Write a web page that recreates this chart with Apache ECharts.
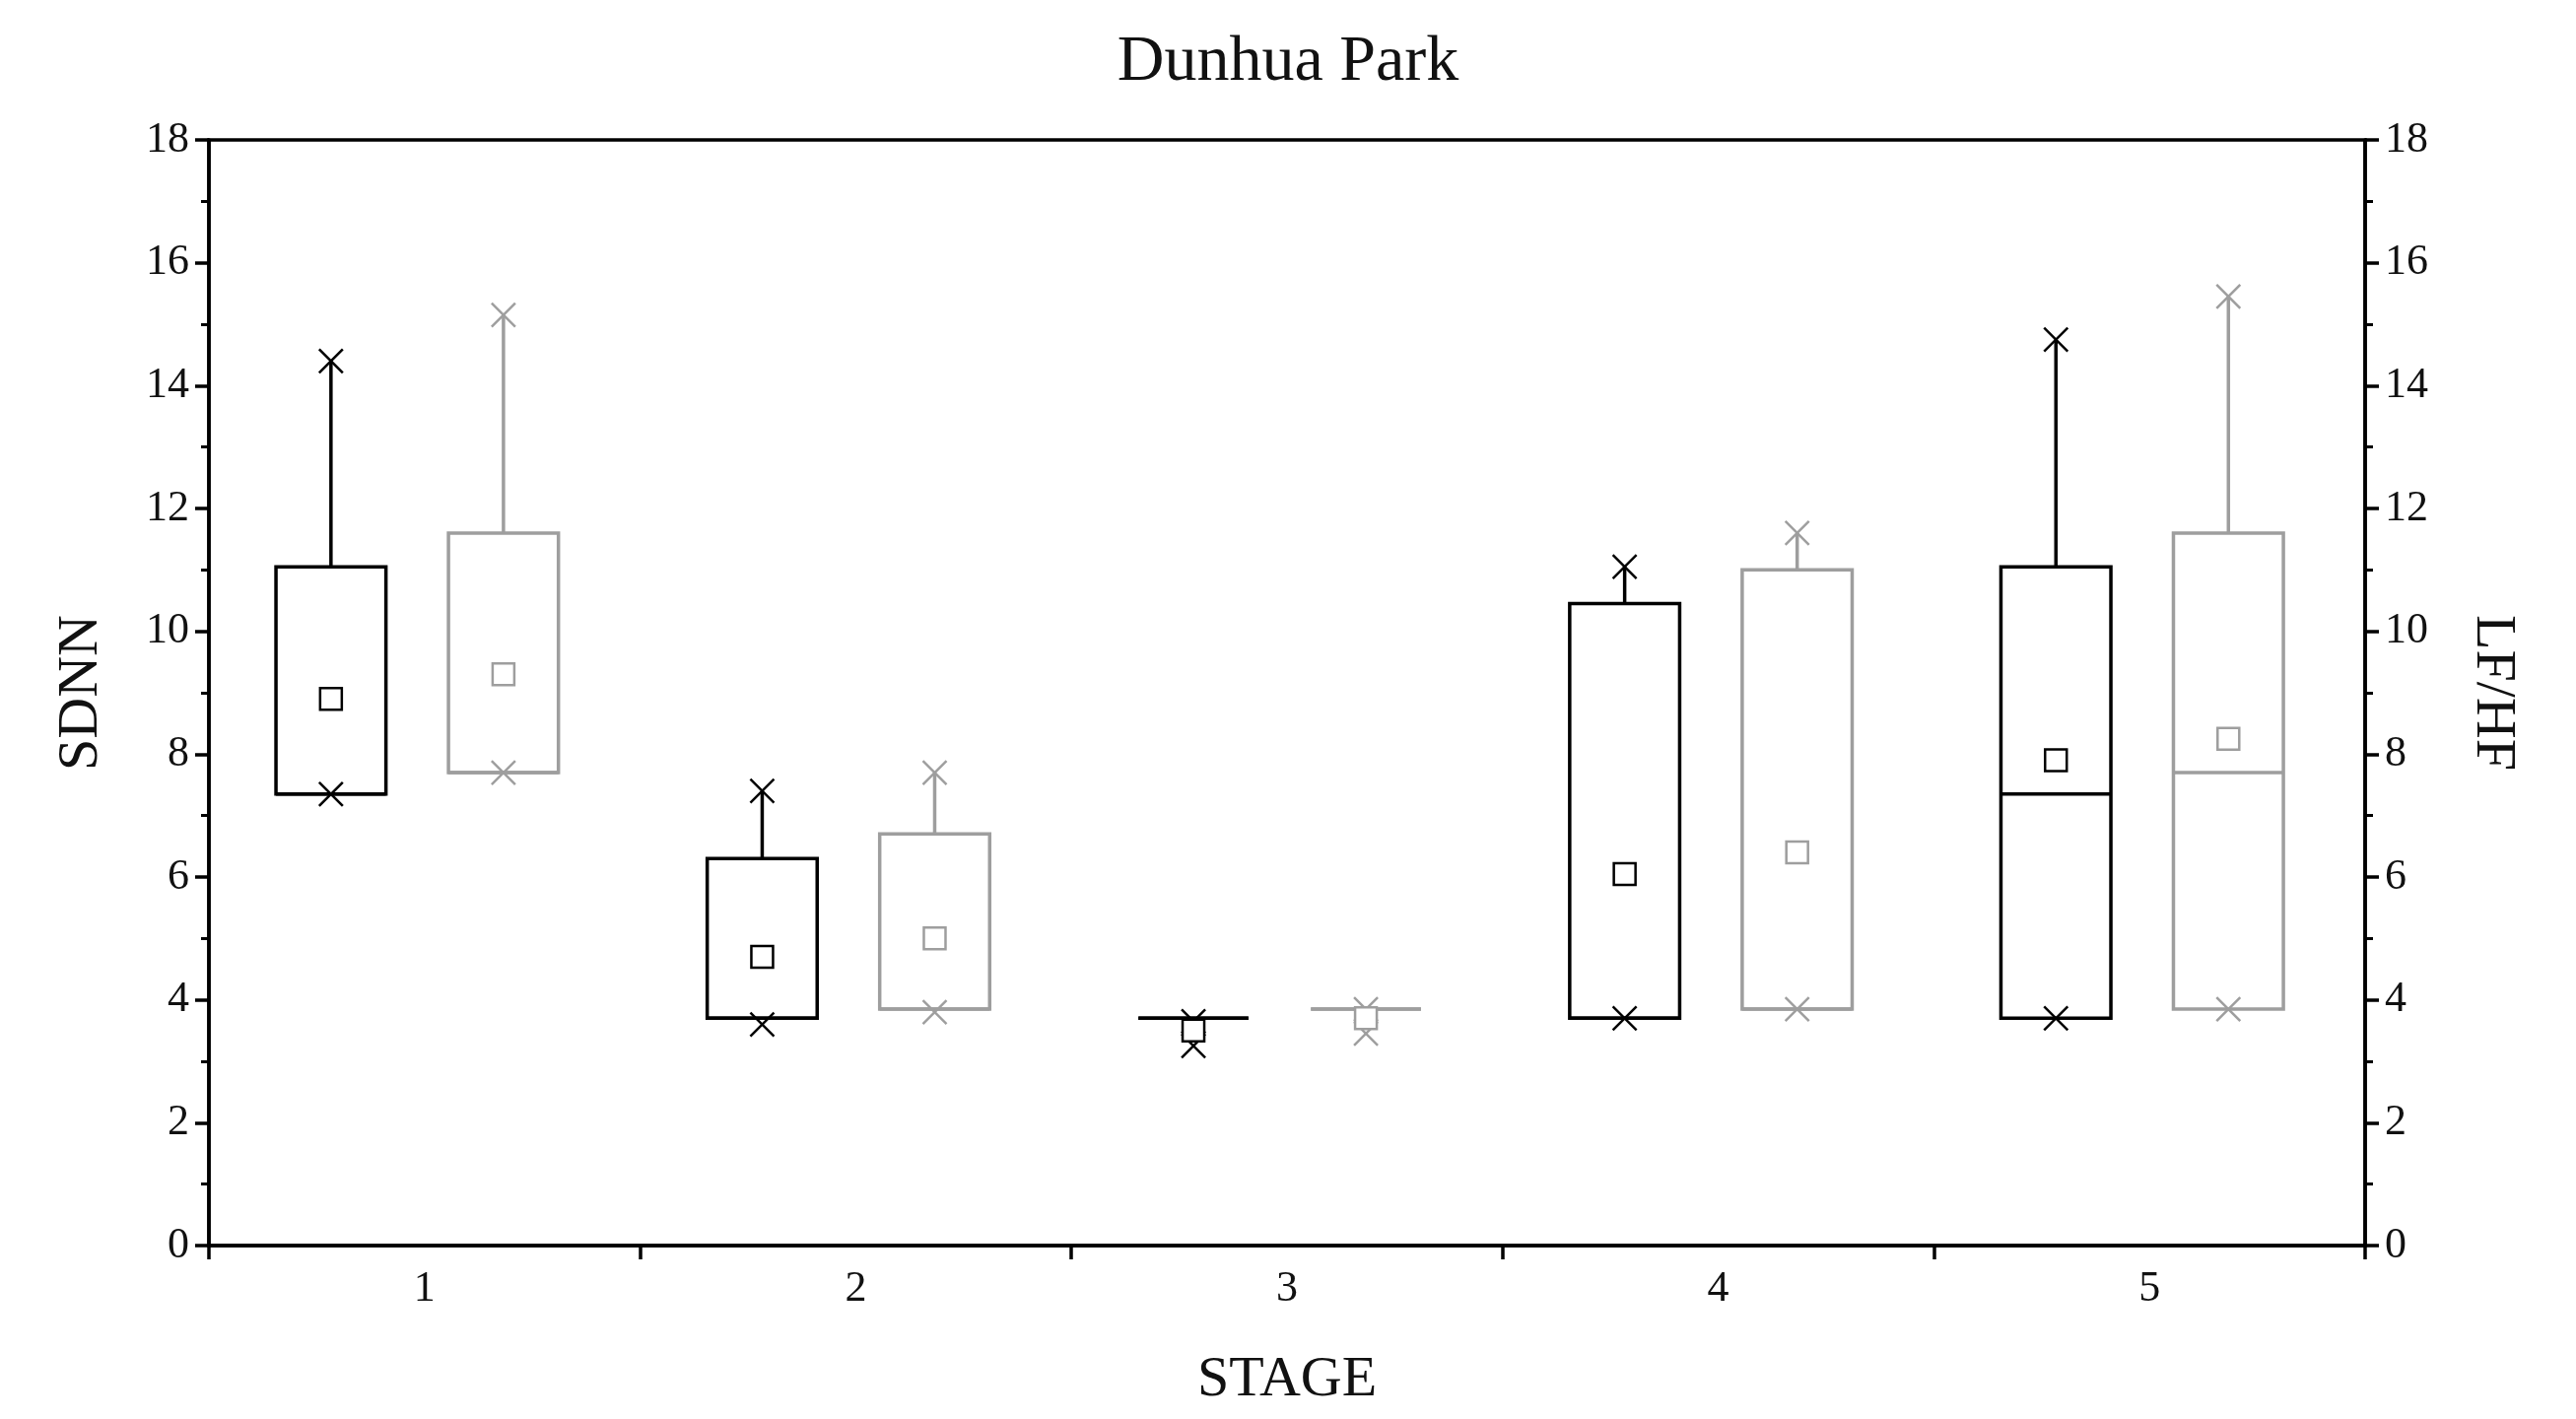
<!DOCTYPE html>
<html><head><meta charset="utf-8">
<script src="https://cdn.jsdelivr.net/npm/echarts@6/dist/echarts.min.js"></script>
<style>html,body{margin:0;background:#fff}#c{width:2614px;height:1440px}</style></head>
<body><div id="c"></div>
<script>
const stages = ['1','2','3','4','5'];
// [boxLow, median, boxHigh, whiskerHigh, markerHigh, markerLow, mean]
const sdnn = [
  [7.35, 7.35, 11.05, 14.4, 14.4, 7.35, 8.9],
  [3.7, 3.7, 6.3, 7.4, 7.4, 3.6, 4.7],
  [3.7, 3.7, 3.7, 3.7, 3.65, 3.25, 3.5],
  [3.7, 3.7, 10.45, 11.05, 11.05, 3.7, 6.05],
  [3.7, 7.35, 11.05, 14.75, 14.75, 3.7, 7.9]
];
const lfhf = [
  [7.7, 7.7, 11.6, 15.15, 15.15, 7.7, 9.3],
  [3.85, 3.85, 6.7, 7.7, 7.7, 3.8, 5.0],
  [3.85, 3.85, 3.85, 3.85, 3.85, 3.45, 3.7],
  [3.85, 3.85, 11.0, 11.6, 11.6, 3.85, 6.4],
  [3.85, 7.7, 11.6, 15.45, 15.45, 3.85, 8.25]
];
const yTicks = [0,2,4,6,8,10,12,14,16,18];

function makeRender(color, offset){
  return function(params, api){
    const i = api.value(0);
    const v = k => api.value(k+1);
    const band = api.size([1,0])[0];
    const cx = api.coord([i,0])[0] + offset*band;
    const w = band*0.255;
    const y = val => api.coord([i,val])[1];
    const st = {stroke:color, lineWidth:3.5, fill:null};
    const ch = [];
    ch.push({type:'line', shape:{x1:cx,y1:y(v(2)),x2:cx,y2:y(v(3))}, style:st});
    ch.push({type:'rect', shape:{x:cx-w/2,y:y(v(2)),width:w,height:y(v(0))-y(v(2))}, style:{stroke:color,lineWidth:3.5,fill:'none'}});
    ch.push({type:'line', shape:{x1:cx-w/2,y1:y(v(1)),x2:cx+w/2,y2:y(v(1))}, style:st});
    const s = 12;
    [v(4), v(5)].forEach(val=>{
      const yy = y(val);
      ch.push({type:'line', shape:{x1:cx-s,y1:yy-s,x2:cx+s,y2:yy+s}, style:{stroke:color,lineWidth:2.5}});
      ch.push({type:'line', shape:{x1:cx-s,y1:yy+s,x2:cx+s,y2:yy-s}, style:{stroke:color,lineWidth:2.5}});
    });
    const q = 11, ym = y(v(6));
    ch.push({type:'rect', shape:{x:cx-q,y:ym-q,width:2*q,height:2*q}, style:{stroke:color,lineWidth:2.5,fill:'#fff'}});
    return {type:'group', children:ch};
  };
}
const toData = arr => arr.map((r,i)=>[i].concat(r));
const font = 'Liberation Serif';
const chart = echarts.init(document.getElementById('c'));
chart.setOption({
  backgroundColor:'#fff',
  title:{text:'Dunhua Park', left:'center', top:26, textStyle:{fontFamily:font,fontSize:66,fontWeight:'normal',color:'#111'}},
  grid:{left:212, right:214, top:142, bottom:176, show:true, borderColor:'#000', borderWidth:3.5},
  xAxis:{type:'category', data:stages, boundaryGap:true,
    name:'STAGE', nameLocation:'middle', nameGap:108, nameTextStyle:{fontFamily:font,fontSize:58,color:'#111'},
    axisLine:{lineStyle:{color:'#000',width:3.5}}, axisTick:{show:true,length:14,lineStyle:{width:3.5,color:'#000'}},
    axisLabel:{fontFamily:font,fontSize:44,color:'#111',margin:22}},
  yAxis:[
    {type:'value', min:0, max:18, interval:2, position:'left',
     name:'SDNN', nameLocation:'middle', nameGap:100, nameTextStyle:{fontFamily:font,fontSize:58,color:'#111'},
     axisLine:{show:true,lineStyle:{color:'#000',width:3.5}}, axisTick:{show:true,length:14,lineStyle:{width:3.5}},
     minorTick:{show:true,splitNumber:2,length:8,lineStyle:{color:'#000',width:3}},
     splitLine:{show:false}, axisLabel:{fontFamily:font,fontSize:44,color:'#111',margin:20}},
    {type:'value', min:0, max:18, interval:2, position:'right',
     name:'LF/HF', nameLocation:'middle', nameGap:100, nameRotate:-90, nameTextStyle:{fontFamily:font,fontSize:58,color:'#111'},
     axisLine:{show:true,lineStyle:{color:'#000',width:3.5}}, axisTick:{show:true,length:14,lineStyle:{width:3.5}},
     minorTick:{show:true,splitNumber:2,length:8,lineStyle:{color:'#000',width:3}},
     splitLine:{show:false}, axisLabel:{fontFamily:font,fontSize:44,color:'#111',margin:20}}
  ],
  series:[
    {type:'custom', name:'SDNN', yAxisIndex:0, renderItem:makeRender('#000',-0.217), data:toData(sdnn), encode:{x:0,y:[1,2,3,4,5,6,7]}},
    {type:'custom', name:'LF/HF', yAxisIndex:1, renderItem:makeRender('#9e9e9e',0.183), data:toData(lfhf), encode:{x:0,y:[1,2,3,4,5,6,7]}}
  ]
});
</script></body></html>
